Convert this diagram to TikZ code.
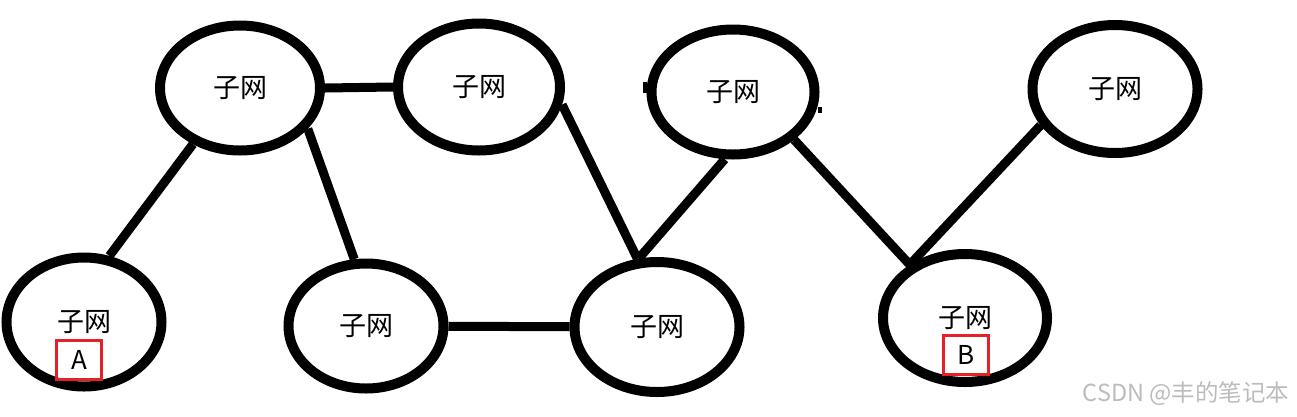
\documentclass[tikz,border=0pt]{standalone}
\usepackage{fontspec}
\newfontfamily\cjk{Noto Sans CJK SC}
\usetikzlibrary{shapes.geometric}
\definecolor{boxred}{RGB}{230,32,40}
\definecolor{markgray}{RGB}{188,188,188}

\begin{document}
\begin{tikzpicture}[x=1pt,y=-1pt,
    subnet/.style={draw,ellipse,line width=10pt,inner sep=0pt,
      font=\cjk\fontsize{27}{32}\selectfont},
    link/.style={line width=9pt},
    tagbox/.style={draw=boxred,line width=2.5pt,inner sep=0pt,
      minimum width=45pt,minimum height=39pt,font=\cjk\fontsize{26}{30}\selectfont}]
    \useasboundingbox (0,0) rectangle (1297,416);
    % subnets, top row
    \node[subnet,minimum width=160pt,minimum height=125pt] (e1) at (240,88) {子网\hspace{12pt}};
    \node[subnet,minimum width=162pt,minimum height=127pt] (e2) at (479,87) {子网\hspace{14pt}};
    \node[subnet,minimum width=163pt,minimum height=125pt] (e3) at (733,92) {子网\hspace{14pt}};
    \node[subnet,minimum width=165pt,minimum height=128pt] (e4) at (1115,89) {子网\hspace{14pt}};
    % subnets, bottom row
    \node[subnet,minimum width=155pt,minimum height=129pt] (e5) at (84,322) {子网\hspace{24pt}};
    \node[subnet,minimum width=155pt,minimum height=125pt] (e6) at (366,326) {子网\hspace{8pt}};
    \node[subnet,minimum width=165pt,minimum height=130pt] (e7) at (657,327) {子网\hspace{16pt}};
    \node[subnet,minimum width=164pt,minimum height=128pt] (e8) at (965,318) {\raisebox{2pt}{子网}\hspace{16pt}};
    % hosts
    \node[tagbox] (hostA) at (79,360) {A};
    \node[tagbox] (hostB) at (966,355) {B};
    % links
    \draw[link] (e1.230) -- (e5.69);
    \draw[link] (e1.329) -- (e6.100);
    \draw[link] (e1.east) -- (e2.west);
    \draw[link] (e2.348) -- (e7.106);
    \draw[link] (e3.263) -- (e7.105);
    \draw[link] (e3.322) -- (e8.136);
    \draw[link] (e4.206) -- (e8.136);
    \draw[link] (e6) -- (e7);
    \fill (643,82) rectangle (647,93);
    \fill (818,107) rectangle (822,113);
    \node[text=markgray,font=\cjk\fontsize{23.5}{28}\selectfont] (mark) at (1186,394) {CSDN @丰的笔记本};
\end{tikzpicture}
\end{document}
